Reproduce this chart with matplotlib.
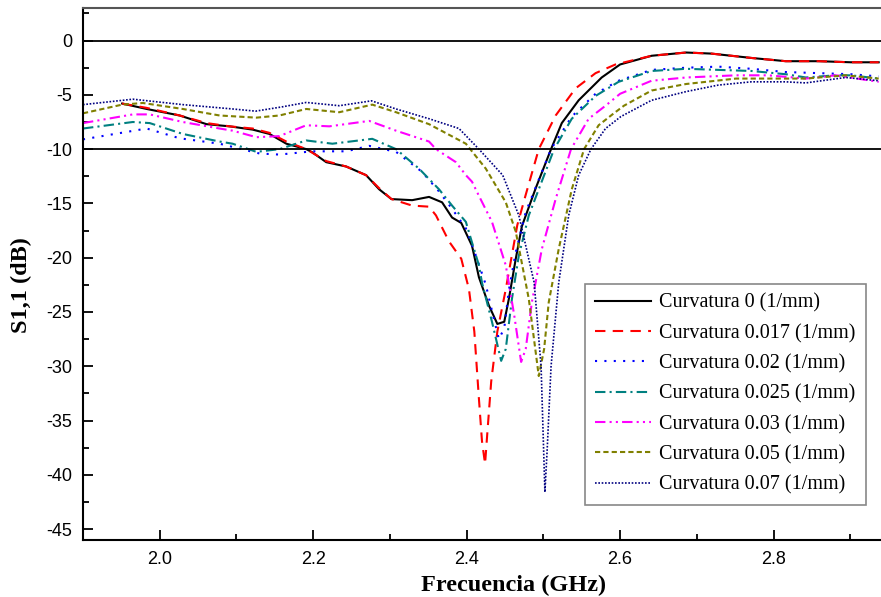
import matplotlib
matplotlib.use("Agg")
import matplotlib.pyplot as plt
from matplotlib.ticker import MultipleLocator

plt.rcParams['axes.unicode_minus'] = False

# Curvatura 0 (1/mm)
f_c0 = [1.951, 1.983, 2.026, 2.061, 2.091, 2.121, 2.143, 2.165, 2.191, 2.199, 2.217, 2.243,
        2.269, 2.286, 2.302, 2.329, 2.351, 2.368, 2.381, 2.393, 2.407, 2.416, 2.429, 2.440,
        2.449, 2.455, 2.464, 2.472, 2.490, 2.510, 2.524, 2.546, 2.576, 2.600, 2.641, 2.686,
        2.719, 2.771, 2.816, 2.859, 2.901, 2.937]
s_c0 = [-5.8, -6.3, -6.9, -7.7, -7.9, -8.2, -8.6, -9.5, -10.0, -10.3, -11.2, -11.6,
        -12.4, -13.7, -14.6, -14.7, -14.4, -14.9, -16.3, -16.8, -18.9, -21.8, -24.4, -26.1,
        -25.9, -23.8, -20.1, -17.1, -13.6, -10.0, -7.6, -5.5, -3.4, -2.2, -1.4, -1.1,
        -1.2, -1.6, -1.9, -1.9, -2.0, -2.0]

# Curvatura 0.017 (1/mm)
f_c017 = [1.951, 1.983, 2.026, 2.061, 2.091, 2.121, 2.143, 2.165, 2.191, 2.217, 2.243, 2.269,
          2.286, 2.302, 2.329, 2.351, 2.360, 2.377, 2.393, 2.403, 2.410, 2.416, 2.420, 2.424,
          2.427, 2.432, 2.440, 2.451, 2.466, 2.477, 2.494, 2.516, 2.542, 2.568, 2.594, 2.641,
          2.686, 2.719, 2.771, 2.816, 2.859, 2.901, 2.937]
s_c017 = [-5.8, -6.2, -6.9, -7.6, -7.9, -8.1, -8.5, -9.3, -10.0, -11.1, -11.6, -12.4,
          -13.6, -14.6, -15.2, -15.3, -16.1, -18.5, -20.1, -22.9, -26.8, -33.0, -36.9, -39.0,
          -36.1, -31.4, -26.8, -22.9, -17.0, -14.2, -10.0, -6.9, -4.4, -3.0, -2.2, -1.4,
          -1.1, -1.2, -1.6, -1.9, -1.9, -2.0, -2.0]

# Curvatura 0.02 (1/mm)
f_c02 = [1.900, 1.983, 2.026, 2.078, 2.130, 2.156, 2.199, 2.243, 2.273, 2.308, 2.342, 2.364,
         2.381, 2.399, 2.412, 2.425, 2.435, 2.442, 2.449, 2.455, 2.464, 2.477, 2.510, 2.537,
         2.568, 2.598, 2.641, 2.686, 2.728, 2.771, 2.816, 2.859, 2.901, 2.937]
s_c02 = [-9.1, -8.1, -9.0, -9.5, -10.4, -10.5, -10.2, -10.2, -9.7, -10.25, -12.1, -13.9,
         -15.5, -17.3, -19.8, -22.5, -25.5, -27.5, -26.5, -23.0, -19.5, -15.8, -10.0, -7.0,
         -4.9, -3.7, -2.7, -2.5, -2.4, -2.6, -2.9, -3.0, -3.1, -3.3]

# Curvatura 0.025 (1/mm)
f_c025 = [1.900, 1.965, 1.987, 2.030, 2.078, 2.095, 2.126, 2.156, 2.191, 2.225, 2.277, 2.308,
          2.338, 2.364, 2.381, 2.399, 2.407, 2.416, 2.420, 2.433, 2.445, 2.451, 2.459, 2.468,
          2.481, 2.514, 2.537, 2.568, 2.598, 2.641, 2.686, 2.728, 2.771, 2.816, 2.842, 2.881,
          2.901, 2.937]
s_c025 = [-8.1, -7.5, -7.6, -8.6, -9.3, -9.5, -10.25, -10.0, -9.2, -9.5, -9.05, -10.0,
          -11.8, -13.7, -15.2, -16.7, -18.6, -20.7, -22.3, -25.9, -29.5, -28.4, -23.8, -19.8,
          -16.1, -10.0, -7.2, -5.1, -3.8, -2.8, -2.6, -2.7, -2.8, -3.1, -3.4, -3.2,
          -3.2, -3.5]

# Curvatura 0.03 (1/mm)
f_c03 = [1.900, 1.965, 1.987, 2.030, 2.078, 2.095, 2.126, 2.156, 2.191, 2.221, 2.273, 2.308,
         2.351, 2.360, 2.373, 2.386, 2.399, 2.407, 2.416, 2.433, 2.451, 2.462, 2.471, 2.477,
         2.485, 2.498, 2.516, 2.536, 2.559, 2.581, 2.600, 2.641, 2.686, 2.751, 2.793, 2.842,
         2.881, 2.937]
s_c03 = [-7.6, -6.8, -6.8, -7.5, -8.1, -8.3, -8.9, -8.8, -7.8, -7.9, -7.4, -8.3,
         -9.3, -10.0, -10.6, -11.2, -12.4, -13.0, -14.3, -16.7, -20.7, -25.3, -29.6, -28.4,
         -24.1, -19.2, -14.6, -10.0, -7.2, -6.0, -4.9, -3.7, -3.4, -3.2, -3.2, -3.5,
         -3.2, -3.8]

# Curvatura 0.05 (1/mm)
f_c05 = [1.900, 1.951, 1.978, 2.030, 2.078, 2.126, 2.156, 2.191, 2.234, 2.277, 2.308, 2.351,
         2.399, 2.425, 2.451, 2.464, 2.481, 2.494, 2.501, 2.507, 2.520, 2.537, 2.553, 2.572,
         2.590, 2.605, 2.641, 2.686, 2.751, 2.793, 2.842, 2.894, 2.937]
s_c05 = [-6.7, -5.9, -5.75, -6.3, -6.9, -7.1, -6.9, -6.3, -6.6, -5.9, -6.6, -7.7,
         -9.5, -11.8, -14.9, -17.6, -23.8, -30.9, -28.4, -24.1, -19.2, -13.7, -10.0, -7.8,
         -6.8, -6.0, -4.6, -4.0, -3.5, -3.5, -3.5, -3.2, -3.5]

# Curvatura 0.07 (1/mm)
f_c07 = [1.900, 1.965, 1.978, 2.030, 2.095, 2.125, 2.160, 2.191, 2.234, 2.276, 2.308, 2.351,
         2.390, 2.416, 2.447, 2.468, 2.488, 2.497, 2.502, 2.505, 2.510, 2.520, 2.533, 2.546,
         2.562, 2.581, 2.601, 2.641, 2.686, 2.728, 2.771, 2.816, 2.842, 2.894, 2.937]
s_c07 = [-5.9, -5.4, -5.5, -5.9, -6.3, -6.5, -6.1, -5.7, -6.0, -5.55, -6.3, -7.2,
         -8.1, -10.0, -12.4, -16.1, -22.3, -30.0, -41.6, -37.6, -30.0, -22.3, -16.1, -12.4,
         -10.0, -8.1, -7.0, -5.5, -4.7, -4.1, -3.8, -3.8, -3.9, -3.4, -3.7]

labels = ['Curvatura 0 (1/mm)', 'Curvatura 0.017 (1/mm)', 'Curvatura 0.02 (1/mm)',
          'Curvatura 0.025 (1/mm)', 'Curvatura 0.03 (1/mm)', 'Curvatura 0.05 (1/mm)',
          'Curvatura 0.07 (1/mm)']

fig = plt.figure(figsize=(8.81, 5.97), dpi=100)
ax = fig.add_axes([0.0942, 0.0955, 0.9058, 0.8911])

ax.plot(f_c0, s_c0, color='black', lw=1.5, label=labels[0])
ax.plot(f_c017, s_c017, color='#FF0000', lw=1.5, dashes=(5, 3.5), label=labels[1])
ax.plot(f_c02, s_c02, color='#0000FF', lw=1.5, dashes=(1, 3.5), label=labels[2])
ax.plot(f_c025, s_c025, color='#008080', lw=1.5, dashes=(5, 2, 1, 2), label=labels[3])
ax.plot(f_c03, s_c03, color='#FF00FF', lw=1.5, dashes=(5, 2, 1, 2, 1, 2), label=labels[4])
ax.plot(f_c05, s_c05, color='#808000', lw=1.5, dashes=(2.5, 1.5), label=labels[5])
ax.plot(f_c07, s_c07, color='#000080', lw=1.2, dashes=(1, 1), label=labels[6])

ax.axhline(0, color='black', lw=1.3)
ax.axhline(-10, color='black', lw=1.3)

ax.set_xlim(1.9, 2.94)
ax.set_ylim(-46, 3)
ax.xaxis.set_major_locator(MultipleLocator(0.2))
ax.xaxis.set_minor_locator(MultipleLocator(0.1))
ax.yaxis.set_major_locator(MultipleLocator(5))
ax.yaxis.set_minor_locator(MultipleLocator(2.5))
ax.xaxis.set_major_formatter(plt.FormatStrFormatter('%.1f'))
ax.tick_params(which='both', direction='in', width=1.3, top=False, right=False)
ax.tick_params(which='major', length=7, labelsize=13, pad=8)
ax.tick_params(which='minor', length=4)
for lab in ax.get_xticklabels() + ax.get_yticklabels():
    lab.set_family('Liberation Sans')

for side in ['left', 'bottom', 'top']:
    ax.spines[side].set_linewidth(1.5)
ax.spines['top'].set_color('#555555')
ax.spines['right'].set_visible(False)

ax.set_xlabel('Frecuencia (GHz)', family='Liberation Serif', fontweight='bold', fontsize=17.5)
ax.set_ylabel('S1,1 (dB)', family='Liberation Serif', fontweight='bold', fontsize=17.5)
ax.xaxis.set_label_coords(0.54, -0.065)
ax.yaxis.set_label_coords(-0.064, 0.48)

leg = ax.legend(loc='lower right', bbox_to_anchor=(0.981, 0.066), borderaxespad=0,
                prop={'family': 'Liberation Serif', 'size': 14.5}, fancybox=False,
                edgecolor='#888888', framealpha=1, handlelength=2.8, labelspacing=0.55,
                handletextpad=0.4, borderpad=0.5)
leg.get_frame().set_linewidth(1.2)

fig.savefig('out.png', dpi=100)
